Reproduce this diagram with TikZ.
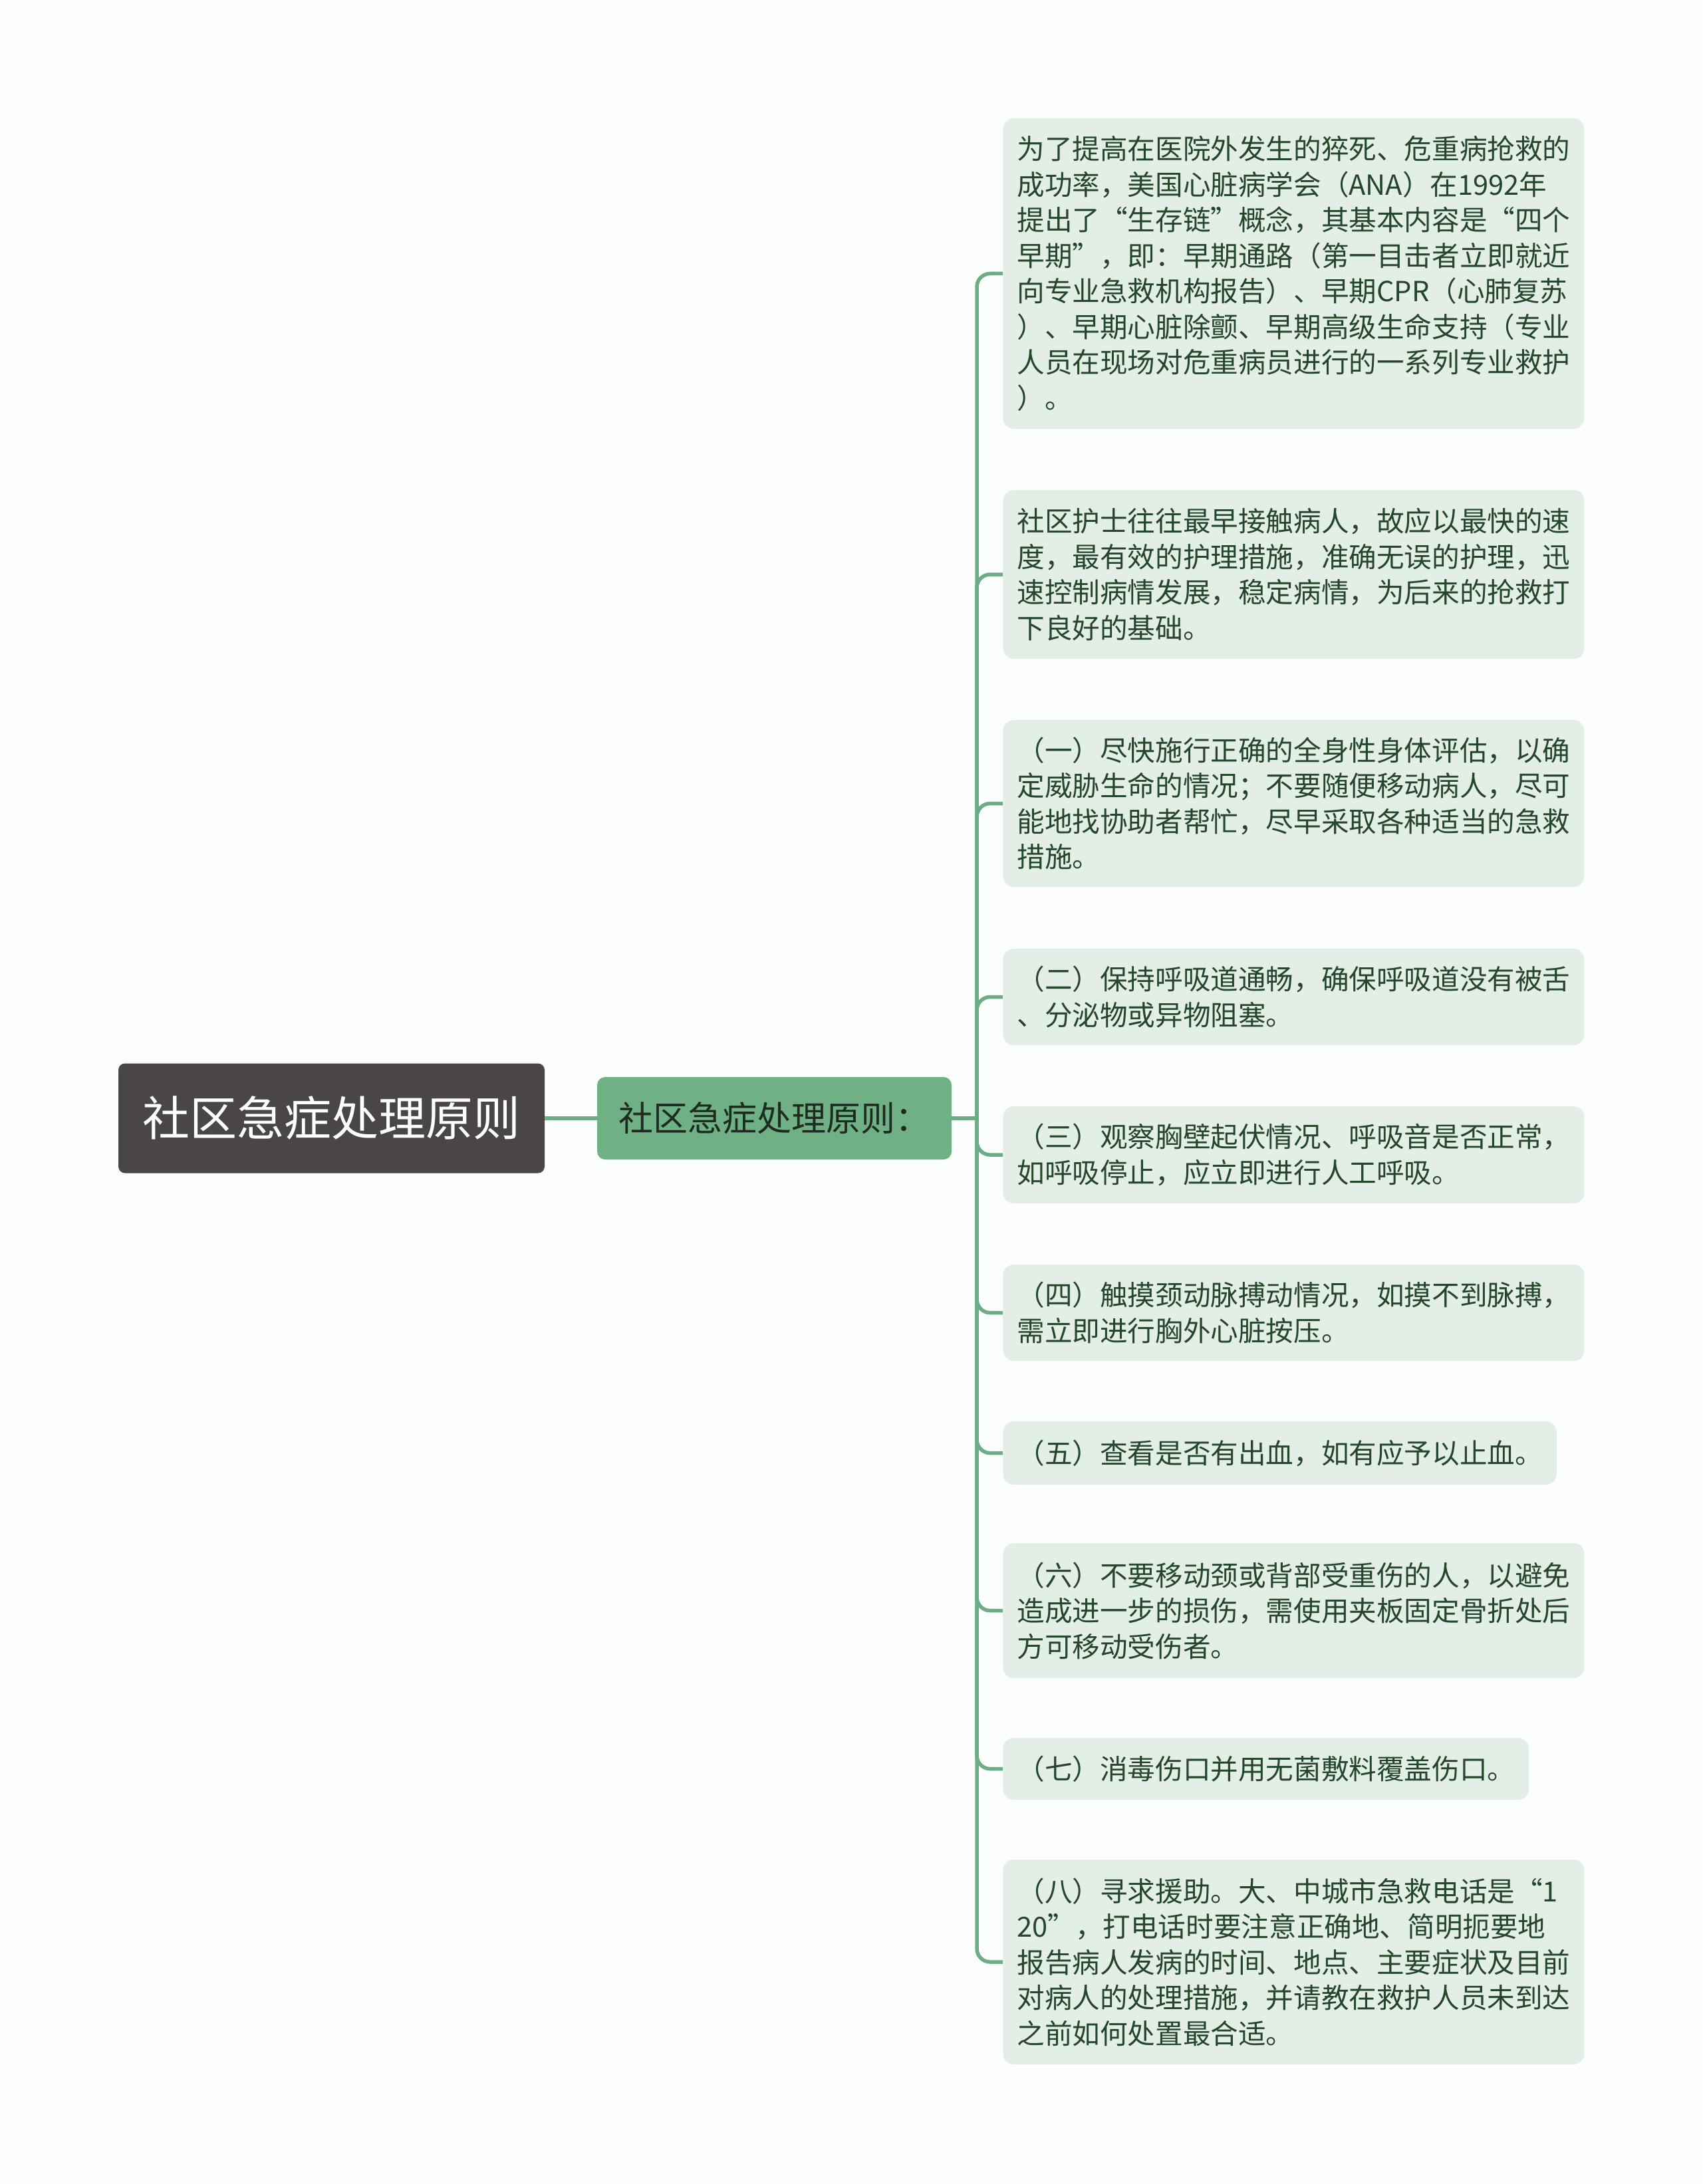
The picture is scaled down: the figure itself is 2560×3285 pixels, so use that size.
\documentclass[tikz,border=0pt]{standalone}
\usepackage{fontspec}
\newfontfamily\cjk{Noto Sans CJK SC}
\definecolor{bg}{HTML}{FBFEFD}
\definecolor{lineg}{HTML}{6DAD85}
\definecolor{leaffill}{HTML}{E3EEE6}
\definecolor{leaftext}{HTML}{24462B}
\definecolor{rootfill}{HTML}{4A4646}
\definecolor{subfill}{HTML}{6FB085}
\definecolor{subtext}{HTML}{1D2B21}
\begin{document}
\begin{tikzpicture}[x=0.5pt,y=-0.5pt,
  conn/.style={draw=lineg, line width=2.75pt},
  branch/.style={conn, rounded corners=10pt},
  leaf/.style={fill=leaffill, rounded corners=8pt, inner xsep=10.5pt, inner ysep=0pt,
    anchor=west, align=left, text=leaftext,
    font=\cjk\fontsize{20.8pt}{26.75pt}\selectfont},
  rootbox/.style={fill=rootfill, rounded corners=5pt, text=white, inner sep=0pt,
    minimum width=320.5pt, minimum height=82.5pt,
    font=\cjk\fontsize{35.5pt}{40pt}\selectfont},
  subbox/.style={fill=subfill, rounded corners=6pt, text=subtext, inner sep=0pt,
    minimum width=266.5pt, minimum height=62pt,
    font=\cjk\fontsize{26pt}{30pt}\selectfont},
]
\fill[bg] (0,0) rectangle (2560,3285);
\path[use as bounding box] (0,0) rectangle (2560,3285);

\node[rootbox] (root) at (498.5,1682) {社区急症处理原则};
\node[subbox] (sub) at (1164.5,1682) {社区急症处理原则：};
\coordinate (j) at (1469,1682);

\node[leaf, minimum height=233.5pt] (b1) at (1508,411.5) {为了提高在医院外发生的猝死、危重病抢救的\\成功率，美国心脏病学会（ANA）在1992年\\提出了“生存链”概念，其基本内容是“四个\\早期”，即：早期通路（第一目击者立即就近\\向专业急救机构报告）、早期CPR（心肺复苏\\）、早期心脏除颤、早期高级生命支持（专业\\人员在现场对危重病员进行的一系列专业救护\\）。};
\node[leaf, minimum height=127pt] (b2) at (1508,864) {社区护士往往最早接触病人，故应以最快的速\\度，最有效的护理措施，准确无误的护理，迅\\速控制病情发展，稳定病情，为后来的抢救打\\下良好的基础。};
\node[leaf, minimum height=125.5pt] (b3) at (1508,1208.5) {（一）尽快施行正确的全身性身体评估，以确\\定威胁生命的情况；不要随便移动病人，尽可\\能地找协助者帮忙，尽早采取各种适当的急救\\措施。};
\node[leaf, minimum height=72.5pt] (b4) at (1508,1499.5) {（二）保持呼吸道通畅，确保呼吸道没有被舌\\、分泌物或异物阻塞。};
\node[leaf, minimum height=73pt] (b5) at (1508,1737) {（三）观察胸壁起伏情况、呼吸音是否正常，\\如呼吸停止，应立即进行人工呼吸。};
\node[leaf, minimum height=72.5pt] (b6) at (1508,1974.5) {（四）触摸颈动脉搏动情况，如摸不到脉搏，\\需立即进行胸外心脏按压。};
\node[leaf, minimum height=47.5pt] (b7) at (1508,2185.5) {（五）查看是否有出血，如有应予以止血。};
\node[leaf, minimum height=101.5pt] (b8) at (1508,2422.5) {（六）不要移动颈或背部受重伤的人，以避免\\造成进一步的损伤，需使用夹板固定骨折处后\\方可移动受伤者。};
\node[leaf, minimum height=46.5pt] (b9) at (1508,2660.5) {（七）消毒伤口并用无菌敷料覆盖伤口。};
\node[leaf, minimum height=154pt] (b10) at (1508,2951) {（八）寻求援助。大、中城市急救电话是“1\\20”，打电话时要注意正确地、简明扼要地\\报告病人发病的时间、地点、主要症状及目前\\对病人的处理措施，并请教在救护人员未到达\\之前如何处置最合适。};

\draw[conn] (root.east) -- (sub.west);
\draw[conn] (sub.east) -- (j);
\foreach \b in {b1,b2,b3,b4,b5,b6,b7,b8,b9,b10}
  \draw[branch] (j) |- (\b.west);
\end{tikzpicture}
\end{document}
